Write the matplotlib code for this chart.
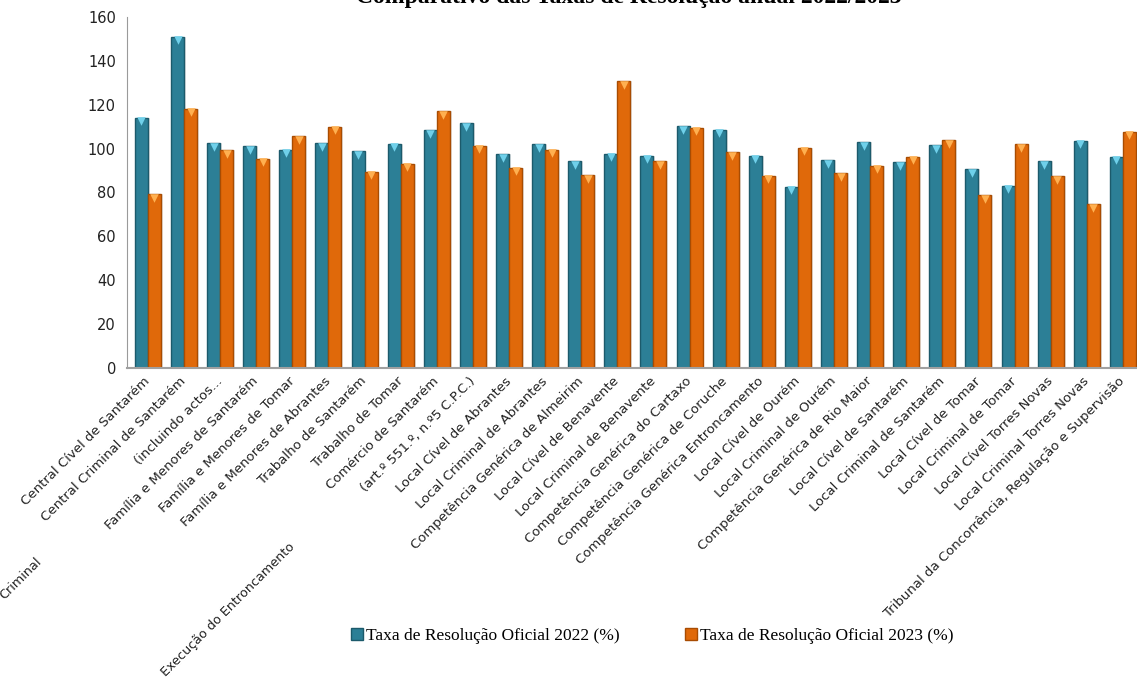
import matplotlib
matplotlib.use("Agg")
import matplotlib.pyplot as plt
from matplotlib.lines import Line2D
import numpy as np

# categorias (tribunais / juízos)
categories = [
    "Central Cível de Santarém",
    "Central Criminal de Santarém",
    "(incluindo actos...",
    "Família e Menores de Santarém",
    "Família e Menores de Tomar",
    "Família e Menores de Abrantes",
    "Trabalho de Santarém",
    "Trabalho de Tomar",
    "Comércio de Santarém",
    "(art.º 551.º, n.º5 C.P.C.)",
    "Local Cível de Abrantes",
    "Local Criminal de Abrantes",
    "Competência Genérica de Almeirim",
    "Local Cível de Benavente",
    "Local Criminal de Benavente",
    "Competência Genérica do Cartaxo",
    "Competência Genérica de Coruche",
    "Competência Genérica Entroncamento",
    "Local Cível de Ourém",
    "Local Criminal de Ourém",
    "Competência Genérica de Rio Maior",
    "Local Cível de Santarém",
    "Local Criminal de Santarém",
    "Local Cível de Tomar",
    "Local Criminal de Tomar",
    "Local Cível Torres Novas",
    "Local Criminal Torres Novas",
    "Tribunal da Concorrência, Regulação e Supervisão",
]

taxa_2022 = [114.0, 151.0, 102.4, 101.2, 99.5, 102.4, 98.7, 102.3, 108.3, 111.5,
             97.5, 102.0, 94.2, 97.7, 96.8, 110.3, 108.5, 96.8, 82.7, 94.8,
             103.0, 93.7, 101.5, 90.5, 83.1, 94.2, 103.5, 96.3]
taxa_2023 = [79.2, 118.2, 99.2, 95.3, 105.6, 110.0, 89.5, 93.2, 117.1, 101.4,
             91.3, 99.4, 87.8, 130.7, 94.2, 109.5, 98.3, 87.7, 100.4, 88.7,
             92.3, 96.2, 103.8, 78.7, 102.0, 87.4, 74.7, 107.8]

# restos de rótulos em duas linhas (índice da categoria, texto)
extra_lines = [(2, "Criminal"), (9, "Execução do Entroncamento")]

series_names = ["Taxa de Resolução Oficial 2022 (%)",
                "Taxa de Resolução Oficial 2023 (%)"]
title = "Comparativo das Taxas de Resolução anual 2022/2023"

blue, blue_edge, blue_cap = "#2C7F96", "#1C5A6B", "#6FD0EA"
orange, orange_edge, orange_cap = "#E0690A", "#A84C02", "#FFB050"

fig = plt.figure(figsize=(11.37, 6.79), dpi=100)
ax = fig.add_axes([127 / 1137, 1 - 368 / 679, 1010 / 1137, 351 / 679])

x = np.arange(len(categories))
w = 0.36

# sombra
ax.bar(x - w / 2 + 0.05, taxa_2022, w, color="#9a9a9a", alpha=0.25, zorder=1)
ax.bar(x + w / 2 + 0.05, taxa_2023, w, color="#9a9a9a", alpha=0.25, zorder=1)

ax.bar(x - w / 2, taxa_2022, w, color=blue, edgecolor=blue_edge, linewidth=1.0, zorder=2)
ax.bar(x + w / 2, taxa_2023, w, color=orange, edgecolor=orange_edge, linewidth=1.0, zorder=2)

# topo chanfrado
ax.scatter(x - w / 2, np.array(taxa_2022) - 1.6, marker="v", s=38,
           color=blue_cap, linewidths=0, zorder=3)
ax.scatter(x + w / 2, np.array(taxa_2023) - 1.6, marker="v", s=38,
           color=orange_cap, linewidths=0, zorder=3)

ax.set_xlim(-0.58, len(categories) - 0.61)
ax.set_ylim(0, 160)
ax.set_yticks(range(0, 161, 20))
ax.tick_params(axis="y", length=0, labelsize=10.5, pad=8, colors="#222222")
ax.tick_params(axis="x", length=0, pad=8)
ax.set_xticks(x)
ax.set_xticklabels(categories, rotation=45, ha="right", va="center",
                   rotation_mode="anchor", fontsize=9.5, color="#222222")

for s in ["top", "right"]:
    ax.spines[s].set_visible(False)
ax.spines["left"].set_color("#9a9a9a")
ax.spines["bottom"].set_color("#a0a0a0")
ax.spines["bottom"].set_linewidth(1.5)

offsets = {2: (-133, -135), 9: (-133, -124)}
for i, txt in extra_lines:
    ax.annotate(txt, xy=(i, 0), xycoords=("data", "axes fraction"),
                xytext=offsets[i], textcoords="offset points", rotation=45,
                ha="right", va="top", rotation_mode="anchor",
                fontsize=9.2, color="#222222", annotation_clip=False)

fig.text(0.553, 1 - 3 / 679, title, ha="center", va="baseline",
         fontsize=17, fontweight="bold", family="Liberation Serif")

handles = [Line2D([], [], marker="s", linestyle="none", markersize=8,
                  markerfacecolor=blue, markeredgecolor=blue_edge),
           Line2D([], [], marker="s", linestyle="none", markersize=8,
                  markerfacecolor=orange, markeredgecolor=orange_edge)]
fig.legend(handles, series_names, loc="center", bbox_to_anchor=(0.574, 0.063),
           ncol=2, frameon=False, handlelength=0.6, handletextpad=0.2,
           columnspacing=3.8, prop={"family": "Liberation Serif", "size": 12.5})

fig.savefig("out.png", dpi=100)
